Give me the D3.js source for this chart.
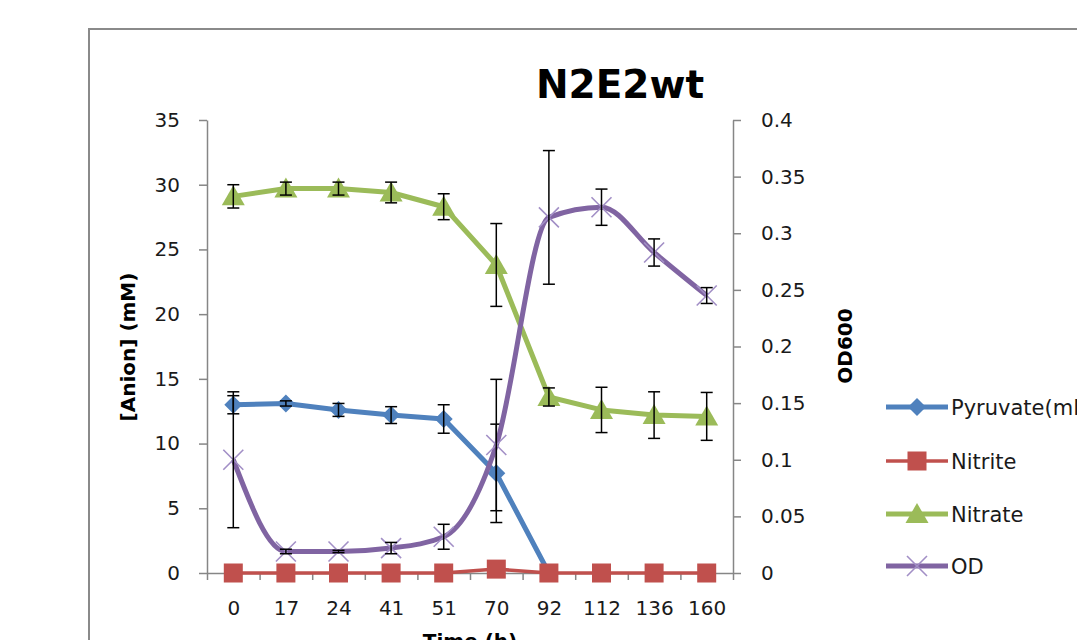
<!DOCTYPE html>
<html>
<head>
<meta charset="utf-8">
<script src="https://cdn.jsdelivr.net/npm/d3@7"></script>
<style>
  body { margin: 0; background: #fff; }
  svg { display: block; }
  .tick text { font-family: "DejaVu Sans", Verdana, sans-serif; font-size: 20px; fill: #1a1a1a; }
  .domain, .tick line { stroke: #868686; stroke-width: 1.5px; }
</style>
</head>
<body>
<div id="chart"></div>
<script>
// N2E2wt time course: anions on the left axis, OD600 on the right axis

var times = ["0", "17", "24", "41", "51", "70", "92", "112", "136", "160"];

// pyruvate is gone after 92 h, no points plotted there
var pyruvate = [13.0, 13.1, 12.6, 12.2, 11.9, 7.7, 0, null, null, null];
var pyruvateErr = [0.7, 0.2, 0.5, 0.65, 1.1, 3.8, 0, 0, 0, 0];

var nitrite = [0, 0, 0, 0, 0, 0.3, 0, 0, 0, 0];
var nitriteErr = [0, 0, 0, 0, 0, 0, 0, 0, 0, 0];

var nitrate = [29.1, 29.7, 29.7, 29.4, 28.3, 23.8, 13.6, 12.6, 12.2, 12.1];
var nitrateErr = [0.9, 0.5, 0.5, 0.8, 1.0, 3.2, 0.7, 1.75, 1.8, 1.85];

var od = [0.100, 0.019, 0.019, 0.022, 0.032, 0.113, 0.314, 0.323, 0.283, 0.245];
var odErr = [0.06, 0.002, 0.001, 0.005, 0.011, 0.058, 0.059, 0.016, 0.012, 0.007];

var leftTicks = [0, 5, 10, 15, 20, 25, 30, 35];
var rightTicks = [0, 0.05, 0.1, 0.15, 0.2, 0.25, 0.3, 0.35, 0.4];

var svgWidth = 1077;
var svgHeight = 640;

var plot = { left: 207, right: 733, top: 120, bottom: 573 };

var svg = d3.select("#chart")
    .append("svg")
    .attr("width", svgWidth)
    .attr("height", svgHeight);

// chart frame (runs off the right and bottom of the picture)
svg.append("rect")
    .attr("x", 89)
    .attr("y", 29)
    .attr("width", 1200)
    .attr("height", 800)
    .attr("fill", "#fff")
    .attr("stroke", "#8a8a8a")
    .attr("stroke-width", 2);

var xScale = d3.scalePoint()
    .domain(times)
    .range([plot.left, plot.right])
    .padding(0.5);

// used only for the tick marks between categories
var xEdges = d3.scaleLinear()
    .domain([0, times.length])
    .range([plot.left, plot.right]);

var yLeft = d3.scaleLinear()
    .domain([0, 35])
    .range([plot.bottom, plot.top]);

var yRight = d3.scaleLinear()
    .domain([0, 0.4])
    .range([plot.bottom, plot.top]);

// axes
svg.append("g")
    .attr("transform", `translate(${plot.left}, 0)`)
    .call(d3.axisLeft(yLeft).tickValues(leftTicks).tickSize(8).tickPadding(19).tickSizeOuter(0));

svg.append("g")
    .attr("transform", `translate(${plot.right}, 0)`)
    .call(d3.axisRight(yRight).tickValues(rightTicks).tickSize(8).tickPadding(20)
        .tickSizeOuter(0).tickFormat(d3.format("~g")));

svg.append("g")
    .attr("transform", `translate(0, ${plot.bottom})`)
    .call(d3.axisBottom(xEdges).ticks(times.length).tickSize(7).tickSizeOuter(0).tickFormat(""));

var xLabels = svg.append("g")
    .attr("transform", `translate(0, ${plot.bottom})`)
    .call(d3.axisBottom(xScale).tickSize(0).tickPadding(28));
xLabels.select(".domain").remove();

// titles
svg.append("text")
    .attr("x", 620)
    .attr("y", 98)
    .attr("text-anchor", "middle")
    .style("font-family", "DejaVu Sans, Verdana, sans-serif")
    .style("font-weight", "bold")
    .style("font-size", "39px")
    .attr("fill", "#000")
    .text("N2E2wt");

svg.append("text")
    .attr("transform", "translate(135, 347) rotate(-90)")
    .attr("text-anchor", "middle")
    .style("font-family", "DejaVu Sans, Verdana, sans-serif")
    .style("font-weight", "bold")
    .style("font-size", "20px")
    .attr("fill", "#000")
    .text("[Anion] (mM)");

svg.append("text")
    .attr("transform", "translate(852, 346) rotate(-90)")
    .attr("text-anchor", "middle")
    .style("font-family", "DejaVu Sans, Verdana, sans-serif")
    .style("font-weight", "bold")
    .style("font-size", "20px")
    .attr("fill", "#000")
    .text("OD600");

svg.append("text")
    .attr("x", 470)
    .attr("y", 648)
    .attr("text-anchor", "middle")
    .style("font-family", "DejaVu Sans, Verdana, sans-serif")
    .style("font-weight", "bold")
    .style("font-size", "20px")
    .attr("fill", "#000")
    .text("Time (h)");

// series definitions
var series = [
    { name: "Pyruvate(mM)", values: pyruvate, err: pyruvateErr, y: yLeft, color: "#4F81BD", width: 5, marker: "diamond", smooth: false },
    { name: "Nitrite", values: nitrite, err: nitriteErr, y: yLeft, color: "#C0504D", width: 3.5, marker: "square", smooth: false },
    { name: "Nitrate", values: nitrate, err: nitrateErr, y: yLeft, color: "#9BBB59", width: 5, marker: "triangle", smooth: false },
    { name: "OD", values: od, err: odErr, y: yRight, color: "#8064A2", width: 5, marker: "cross", smooth: true }
];

function drawMarker(g, type, color) {
    if (type === "diamond") {
        g.append("path").attr("d", "M0,-9L9,0L0,9L-9,0Z").attr("fill", color);
    } else if (type === "square") {
        g.append("rect").attr("x", -9.5).attr("y", -9.5).attr("width", 19).attr("height", 19).attr("fill", color);
    } else if (type === "triangle") {
        g.append("path").attr("d", "M0,-11L11.5,9L-11.5,9Z").attr("fill", color);
    } else if (type === "cross") {
        g.append("path").attr("d", "M-10,-10L10,10M-10,10L10,-10")
            .attr("stroke", "#a28fc6").attr("stroke-width", 1.6).attr("fill", "none");
    }
}

series.forEach(function(s) {
    var line = d3.line()
        .defined(d => d !== null)
        .x((d, i) => xScale(times[i]))
        .y(d => s.y(d))
        .curve(s.smooth ? d3.curveMonotoneX : d3.curveLinear);

    var g = svg.append("g");

    g.append("path")
        .datum(s.values)
        .attr("d", line)
        .attr("fill", "none")
        .attr("stroke", s.color)
        .attr("stroke-width", s.width)
        .attr("stroke-linejoin", "round");

    s.values.forEach(function(v, i) {
        if (v === null) return;
        var m = g.append("g")
            .attr("transform", `translate(${xScale(times[i])}, ${s.y(v)})`);
        drawMarker(m, s.marker, s.color);
    });

    // error bars
    s.values.forEach(function(v, i) {
        var e = s.err[i];
        if (!e || v === null) return;
        var x = xScale(times[i]);
        var y1 = s.y(v + e), y2 = s.y(Math.max(0, v - e));
        var eb = g.append("g").attr("stroke", "#000").attr("stroke-width", 1.5);
        eb.append("line").attr("x1", x).attr("x2", x).attr("y1", y1).attr("y2", y2);
        eb.append("line").attr("x1", x - 6).attr("x2", x + 6).attr("y1", y1).attr("y2", y1);
        eb.append("line").attr("x1", x - 6).attr("x2", x + 6).attr("y1", y2).attr("y2", y2);
    });
});

// legend
var legend = svg.append("g");
var legendRows = [407, 461, 514, 566];

series.forEach(function(s, i) {
    var row = legend.append("g").attr("transform", `translate(0, ${legendRows[i]})`);
    row.append("line")
        .attr("x1", 886).attr("x2", 948)
        .attr("stroke", s.color)
        .attr("stroke-width", s.width);
    var m = row.append("g").attr("transform", "translate(917, 0)");
    drawMarker(m, s.marker, s.color);
    row.append("text")
        .attr("x", 951)
        .attr("y", 8)
        .style("font-family", "DejaVu Sans, Verdana, sans-serif")
        .style("font-size", "21px")
        .attr("fill", "#1a1a1a")
        .text(s.name);
});
</script>
</body>
</html>
